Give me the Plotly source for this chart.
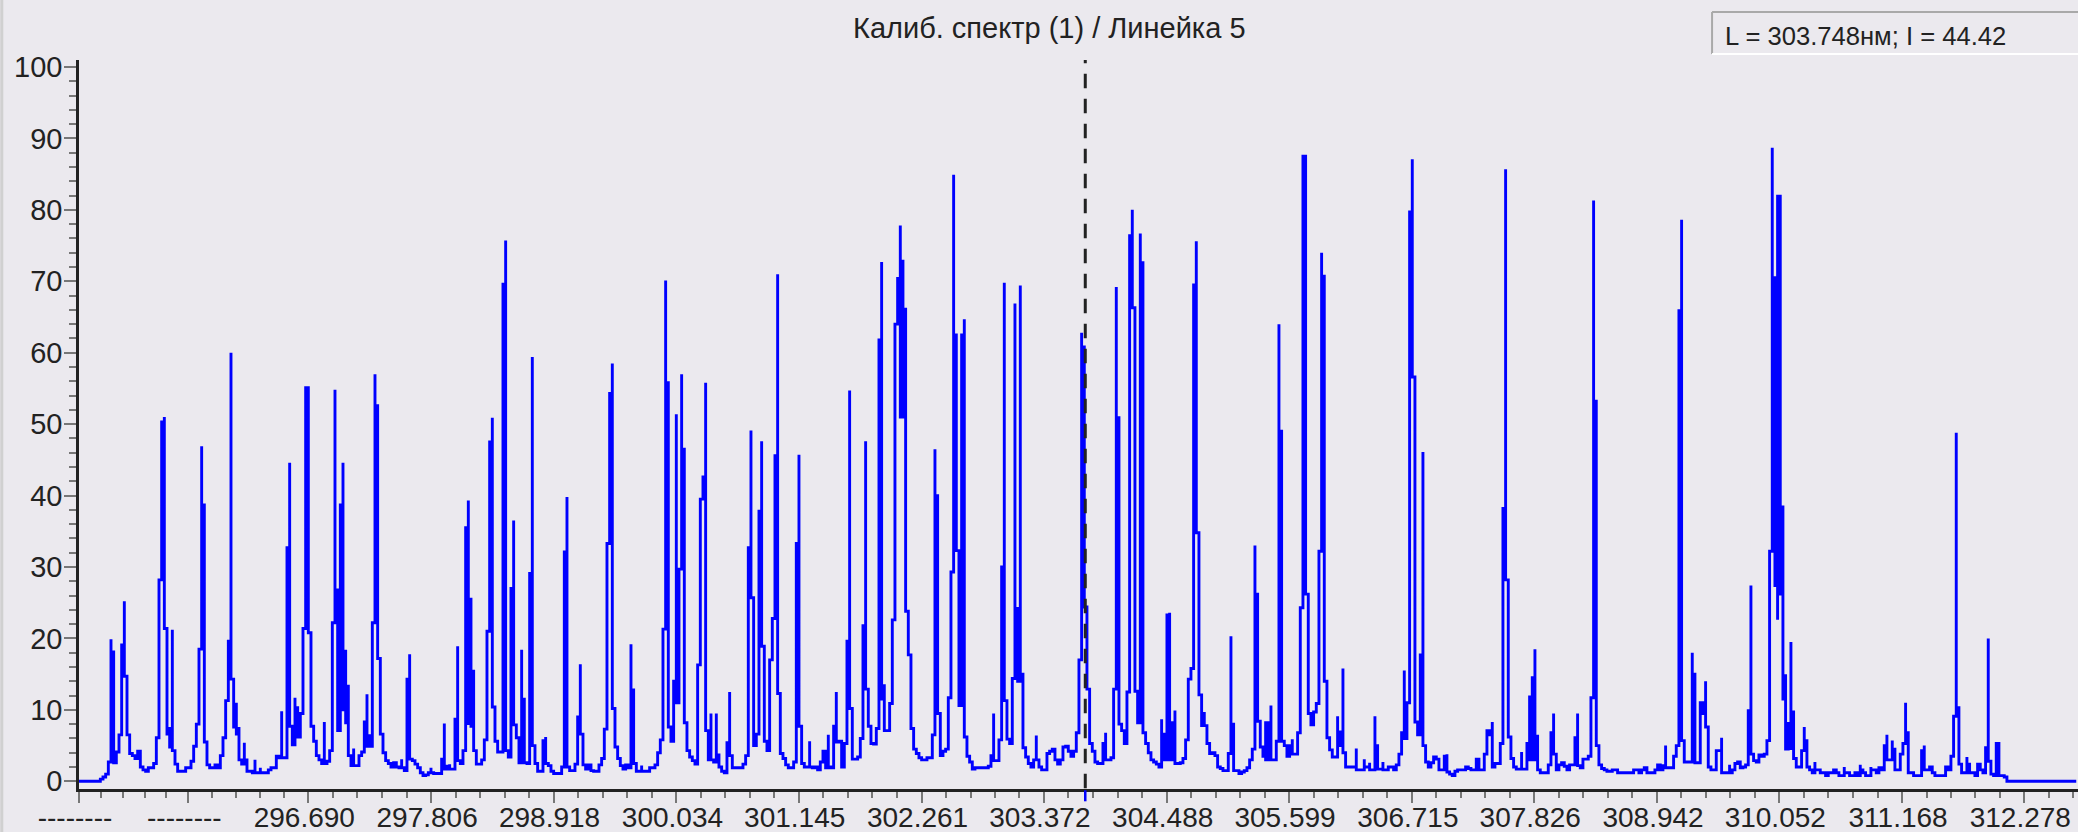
import numpy as np
import plotly.graph_objects as go

TITLE = "Калиб. спектр (1) / Линейка 5"
READOUT = "L = 303.748нм; I = 44.42"
CURSOR_NM = 303.748

MAJOR_TICKS_NM = [294.607, 295.600, 296.690, 297.806, 298.918, 300.034, 301.145, 302.261,
                  303.372, 304.488, 305.599, 306.715, 307.826, 308.942, 310.052, 311.168, 312.278]
MAJOR_LABELS = ["", "--------", "--------", "296.690", "297.806", "298.918", "300.034", "301.145",
                "302.261", "303.372", "304.488", "305.599", "306.715", "307.826", "308.942",
                "310.052", "311.168", "312.278"][1:]
# wavelength of the first camera pixel and nm per camera pixel
START_NM = 294.607
STEP_NM = 0.024223

# Each entry is one camera column: a level, or (peak, level after the peak).
BAND_1 = [0,0,0,0,0,0,0,0,.3,.6,1.0,2.7,(19.9,18.1),2.6,4.1,6.5,19.1,(25.2,14.7),6.5,3.9,3.6,3.2,4.2,2.0,1.6,1.4,1.9,1.9,2.5,6.1,
          28.2,50.3,(51,21.4),6.6,(7.6,4.8),(21.2,4.3),2.4,1.4,1.4,1.4,1.9,1.9,2.8,4.9,8,18.5,(46.9,38.7),5.5,2.3,1.9,1.9,2.3,1.9,3.6,6.1,11.3,19.6,
          (60,14.3),7.6,(11,6.6),(7.6,3),2.4,(5.4,3),1.4,1.4,1.2,(3,1.2),1.2,(1.9,1.2),1.2,1.2,1.6,1.9,1.9,3.5,3.3,(9.8,3.3),3.3,32.7,(44.6,7.7),
          5.1,(11.7,6.4),(10.5,6.2),9.5,21.4,55.1,(55.1,20.8),7.7,5.6,3.6,3,2.5,(8.3,2.5)]
BAND_2 = [2.8,4.3,22.2,(54.8,26.8),7.1,38.7,(44.6,10),(18.4,8.2),(13.5,3.6),2.2,(4.6,2.2),2.2,3.6,4.1,8.3,(12.2,4.9),(6.6,4.9),22.2,(57,52.6),17.2,
          6.6,4.0,2.9,2.5,2.0,2.6,2.0,1.9,(3.1,1.9),1.5,14.3,(17.8,3.1),2.9,2.4,1.9,1.2,.8,.9,1.2,(1.9,1.2),1.1,1.1,1.1,3.1,(8.1,1.7),2.1,(2.4,1.7),1.7,
          8.7,(18.9,2.9),2.5,4.3,35.5,(39.3,8.1),(25.7,7.7),(15.6,4.3),2.4,2.4,3.0,5.8,21.0,47.5,(50.9,10.4),5.6,4.1,4.1,69.6,(75.7,4.3),3.4,27,(36.5,7.9),
          6.1,(6.1,2.6),(18.4,5),(11.7,2.6),2.5,29.1,(59.4,5.0),2.5,1.4,1.4,5.7,(6.2,2.5),2.2,1.4,1.1,1.1,1.1,2.0,32.1,(39.8,2.0)]
BAND_3 = [1.5,1.5,2.4,9.0,(16.4,6.6),2.3,1.7,2.3,1.5,1.4,1.4,2.3,3.2,7.3,33.3,54.3,(58.5,10.2),4.8,3.2,2.2,1.7,2.3,1.9,(19.2,12.8),2.5,1.4,1.4,(2.2,1.4),1.4,1.4,
          1.9,1.9,2.3,4,5.8,21.3,(70.1,55.8),7.6,5.6,14,(51.4,11),29.7,(57,46.5),8.2,4.3,3.4,2.9,2.4,16.3,39.5,42.6,(55.8,7.1),3.0,(9.5,3),2.7,(9.5,3.7),2,1.4,1.2,
          5.4,(12.5,3.6),1.9,1.9,1.9,1.9,2.4,3.6,32.7,(49.1,25.7),5,6.6,37.8,(47.6,18.9),5.6,4.3,17,22.8,45.6,(71,12.3),3.9,3.2,2.3,1.9,1.9,2.7,33.3,(45.7,7.7)]
BAND_4 = [(7.7,2.5),2.0,2.0,(5.6,2.0),1.9,2.0,1.6,2.7,4.2,(4.2,1.9),(6.5,2),1.9,7.7,(12.5,5.5),5.6,2.0,5.3,19.6,(54.7,10.2),3.1,3.1,3.4,6.0,21.8,(47.6,12.9),7.7,5.3,5.2,7.4,61.8,
          (72.7,11.5),(13.6,7.1),7.1,10.9,22.6,64,70.4,(77.8,51),(73,52),(66.3,23.8),17.7,7.4,4.5,3.9,3.3,3,3,3.3,3.3,6.5,(46.5,40),9.5,3.6,4.2,4.5,11.7,29.3,(84.9,62.5),
          32.3,10.6,62.5,(64.7,6.2),3.5,2.7,1.7,1.9,1.9,1.9,1.9,1.9,2.1,3.6,(9.5,2.9),2.9,5.8,30,(69.8,11.3),5.9,5.3,14.4,(66.9,24.2),14,(69.4,15),4.7,3.4,2.5,2,3,(6.4,3),2]
BAND_5 = [1.6,1.6,3.9,4.2,4.5,3,2.4,3.0,4.8,4.9,4.2,3.5,4.2,6.8,17,(62.8,60.8),24.4,12.9,5.3,4.2,2.7,2.5,2.5,5.3,(6.8,3),3.0,3.3,12.9,(69.2,50.9),8,7.1,5.3,12.5,76.4,(80,66.3),
          12.6,8.2,(76.7,72.6),6.8,5.3,4,3,2.7,2.4,2,(8.7,3),(6.8,3),23.3,(23.6,3),(8.4,3),(9.9,2.5),2.5,2.6,3.2,5.8,14.3,15.8,69.5,(75.6,34.8),12.1,7.8,(9.7,7.8),5.3,3.9,4,3.6,2,1.8,1.5,1.5,
          3.9,(20.3,8),1.5,1.5,1.1,1.3,1.5,1.9,3,4.5,(33,26.2),8.4,4.8,3.5,(8.4,3),(8.4,3),(10.6,3),3,5.6,(64,49)]
BAND_6 = [5.6,5.0,3.5,5,(5.9,3.8),3.8,6.8,24.3,87.5,(86.4,26.2),9.5,7.9,9.7,10.9,32.2,(74,70.7),14,6.1,4.4,3.4,3.4,(9.1,5),(7.1,5),(15.8,4),2,2,2,2,(4.6,1.6),1.6,1.6,(3.1,2),2,(2.6,1.6),1.6,
          (9.1,5),1.7,1.7,(2.7,1.6),1.6,2,2,1.6,2.3,3.8,6.8,(15.5,6),11,79.7,(87.1,56.6),8.3,6.5,17.7,(46.1,5),2.7,2,2.6,3.4,3.1,1.6,1.6,3.5,(3.8,1.3),1,.8,1.4,1.6,1.6,1.6,2,1.8,1.6,1.6,
          3.1,(3.1,1.6),1.6,3.8,7.1,6.5,(8.3,2),2.5,2.5,5.3,38.2,(85.7,28.2),6.2,3.2,2,1.7,1.7]
BAND_7 = [(4.1,1.7),1.7,5.3,(12,3),(14.7,3),(18.5,3),(6.5,1.6),1.2,1.2,1.2,2.3,6.8,(9.5,3.8),1.6,2.3,2.6,2.1,1.6,2.3,2.3,6.1,(9.5,2.2),1.9,3.1,3.1,3.5,11.7,(81.3,53.2),5,2.3,1.8,1.6,1.4,1.4,
          1.6,1.6,1.2,1.2,1.2,1.2,1.2,1.2,1.6,1.6,1.2,1.6,1.9,1.2,1.2,1.2,1.6,2.3,1.6,2.2,(5,1.9),1.9,1.9,3.5,5,65.9,(78.6,5.7),2.7,2.7,2.7,(18,15),2.6,2.6,11,9.5,(14,7.6),2,1.6,1.6,4.3,4.3,
          (6.1,1.2),1.2,1.2,(2.3,1.2),1.6,2.5,2.7,1.9,2,2.3,9.9,(27.4,3.8),2.9,2.7,3.7]
BAND_8 = [3.5,3.8,5.7,32.2,(88.7,70.5),27.4,(22.6,81.9),26.2,(38.6,11.5),(15,4.5),(8.3,4.6),(19.5,4.6),(9.9,3.2),2,2,4.3,(7.6,5.7),2,1.6,1.2,(2.7,1.6),1.6,1.2,1.2,.8,1.2,1.2,1.6,1.2,.8,.8,(2,1.2),1.2,.8,.8,1.2,.8,
          (2.3,1.6),1.2,.8,.8,(2,1.6),1.6,1.2,1.9,1.6,5,(6.5,3),3,(5.7,3),(4.7,1.6),1.6,3.8,5.3,(11,6.8),1.2,1.2,.8,.8,.8,4.3,(5,1.6),1.6,2,1.2,.8,.8,.8,.8,2,1.6,3.5,9.1,(48.8,10.3),2.4,1.2,1.2,(3.4,2.4),(2.4,1.2),
          1.2,.8,2.4,1.6,1.2,4.7,(20,2.8),1,.8,5.3,(5,.8),.8,.6,0,0,0,0,0,0,0,0,0,0,0,0,0,0,0,0,0,0,0,0,0,0,0,0,0,0,0]

W, H = 2078, 832
L, R, T, B = 78.7, 0, 60, 43.3
PX_NM = 110.1
Y0_PX, PX_UNIT = 781.0, 7.14
BG = "#EBE9EE"
INK = "#222222"
FONT = "Liberation Sans"

def px(x): return (x - L) / (W - L - R)
def py(y): return 1 - (y - T) / (H - T - B)

columns, levels = [], []
for col, e in enumerate(BAND_1 + BAND_2 + BAND_3 + BAND_4 + BAND_5 + BAND_6 + BAND_7 + BAND_8):
    for v in (e if isinstance(e, tuple) else (e,)):
        columns.append(col)
        levels.append(v)
wave = START_NM + np.array(columns) * STEP_NM

x_range = [START_NM, START_NM + (W - L) / PX_NM]
y_range = [(Y0_PX - (H - B)) / PX_UNIT, (Y0_PX - T) / PX_UNIT]

m = np.array(MAJOR_TICKS_NM)
minor_x = [float(a + (b - a) * k / 5) for a, b in zip(m[:-1], m[1:]) for k in range(1, 5)]
last_gap = m[-1] - m[-2]
minor_x += [float(m[-1] + last_gap * k / 5) for k in range(1, 3)]
major_y = list(range(0, 101, 10))
minor_y = [v for v in range(0, 101, 2) if v % 10]

fig = go.Figure(go.Scatter(x=wave, y=levels, mode="lines",
                           line=dict(color="#0000FF", width=2.9, shape="hv", simplify=False),
                           hoverinfo="skip", showlegend=False))

line_col = INK
fig.update_layout(
    width=W, height=H, autosize=False,
    margin=dict(l=L, r=R, t=T, b=B, pad=0, autoexpand=False),
    paper_bgcolor=BG, plot_bgcolor=BG,
    font=dict(family=FONT, size=29, color=INK),
    xaxis=dict(range=x_range, showgrid=False, zeroline=False, showline=True, linecolor=line_col, linewidth=2.5,
               tickmode="array", tickvals=MAJOR_TICKS_NM, ticktext=MAJOR_LABELS, ticks="outside",
               ticklen=11, tickwidth=2, tickcolor="#777777", ticklabelstandoff=-9, ticklabelshift=-4,
               minor=dict(tickmode="array", tickvals=minor_x, ticks="outside", ticklen=6, tickwidth=2, tickcolor="#777777"),
               tickangle=0, tickfont=dict(family=FONT, size=28, color=INK)),
    yaxis=dict(range=y_range, showgrid=False, zeroline=False, showline=True, linecolor=line_col, linewidth=2.5,
               tickmode="array", tickvals=major_y, ticktext=[str(v) for v in major_y], ticks="outside",
               ticklen=12, tickwidth=2, tickcolor="#777777", ticklabelstandoff=-4,
               minor=dict(tickmode="array", tickvals=minor_y, ticks="outside", ticklen=7, tickwidth=2, tickcolor="#777777"),
               tickfont=dict(family=FONT, size=29, color=INK)),
    annotations=[
        dict(text=TITLE, xref="paper", yref="paper", x=px(1049.5), y=py(28), xanchor="center", yanchor="middle",
             showarrow=False, font=dict(family=FONT, size=29, color=INK)),
        dict(text=READOUT, xref="paper", yref="paper", x=px(1723), y=py(36), xanchor="left", yanchor="middle",
             showarrow=False, font=dict(family=FONT, size=25.6, color=INK)),
    ],
    shapes=[
        dict(type="line", xref="x", yref="paper", x0=CURSOR_NM, x1=CURSOR_NM, y0=py(788), y1=py(60),
             line=dict(color=INK, width=3, dash="14.5px,10.5px"), layer="above"),
        dict(type="line", xref="x", yref="paper", x0=CURSOR_NM, x1=CURSOR_NM, y0=py(801), y1=py(790),
             line=dict(color="#0000FF", width=2.5), layer="above"),
        dict(type="line", xref="paper", yref="paper", x0=px(1712), x1=px(2078), y0=py(12), y1=py(12),
             line=dict(color="#A9A9A9", width=2)),
        dict(type="line", xref="paper", yref="paper", x0=px(1712), x1=px(1712), y0=py(12), y1=py(54),
             line=dict(color="#A9A9A9", width=2)),
        dict(type="line", xref="paper", yref="paper", x0=px(1712), x1=px(2078), y0=py(54), y1=py(54),
             line=dict(color="#FFFFFF", width=2)),
        dict(type="rect", xref="paper", yref="paper", x0=px(0), x1=px(3), y0=py(0), y1=py(832),
             fillcolor="#D0D0D0", line=dict(width=0)),
    ],
)
fig.write_html("out.html", config=dict(displayModeBar=False),
               post_script="document.body.style.margin='0';document.body.style.overflow='hidden';")
